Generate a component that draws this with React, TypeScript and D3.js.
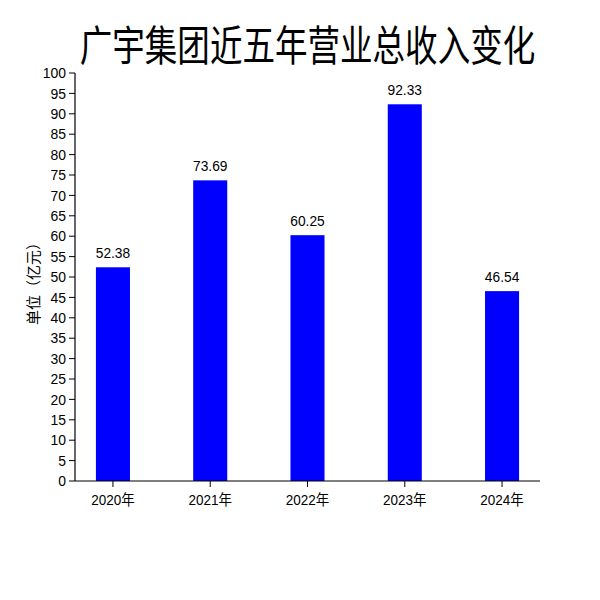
import React from "react";
import * as d3 from "d3";

const categories = ["2020年", "2021年", "2022年", "2023年", "2024年"];
const revenue = [52.38, 73.69, 60.25, 92.33, 46.54];
const yTicks = d3.range(0, 101, 5);
const title = "广宇集团近五年营业总收入变化";
const yLabel = "单位（亿元）";

const W = 600, H = 600;
const left = 75, right = 540, top = 73, bottom = 481;
const numFont = "'Liberation Sans', Arial, 'Noto Sans CJK SC', sans-serif";
const cjkFont = "'Noto Sans CJK SC', sans-serif";

export default function App() {
  const x = d3.scalePoint<string>().domain(categories).range([left, right]).padding(0.39);
  const y = d3.scaleLinear().domain([0, 100]).range([bottom, top]);
  const bw = x.step() * 0.35;
  return (
    <svg width={W} height={H} style={{ position: "absolute", left: 0, top: 0, background: "#fff" }}>
      <rect x={0} y={0} width={W} height={H} fill="#fff" />
      <g transform={`translate(${(left + right) / 2},61) scale(0.775,1)`}>
        <text textAnchor="middle" fontFamily={cjkFont} fontSize={42} fill="#000">{title}</text>
      </g>
      {categories.map((c, i) => (
        <rect key={c} x={(x(c) as number) - bw / 2} y={y(revenue[i])} width={bw} height={bottom - y(revenue[i])} fill="#0000ff" />
      ))}
      {categories.map((c, i) => (
        <g key={c + "v"} transform={`translate(${x(c)},${y(revenue[i]) - 9}) scale(0.95,1)`}>
          <text textAnchor="middle" fontFamily={numFont} fontSize={14.5} fill="#000">{revenue[i].toFixed(2)}</text>
        </g>
      ))}
      <line x1={left} x2={left} y1={top} y2={bottom} stroke="#000" strokeWidth={1.2} />
      <line x1={left} x2={right} y1={bottom} y2={bottom} stroke="#000" strokeWidth={1.2} />
      {yTicks.map((t) => (
        <g key={t}>
          <line x1={left - 6} x2={left} y1={y(t)} y2={y(t)} stroke="#000" strokeWidth={1} />
          <g transform={`translate(${left - 9},${y(t)}) scale(0.9,1)`}>
            <text textAnchor="end" dominantBaseline="central" fontFamily={numFont} fontSize={15.5} fill="#000">{t}</text>
          </g>
        </g>
      ))}
      {categories.map((c) => (
        <g key={c + "t"}>
          <line x1={x(c)} x2={x(c)} y1={bottom} y2={bottom + 6} stroke="#000" strokeWidth={1} />
          <g transform={`translate(${x(c)},${bottom + 24}) scale(0.9,1)`}>
            <text textAnchor="middle" fontFamily={numFont} fontSize={15} fill="#000">{c}</text>
          </g>
        </g>
      ))}
      <g transform={`translate(32,280) rotate(-90)`}>
        <text textAnchor="middle" dominantBaseline="central" fontFamily={cjkFont} fontSize={15} fill="#000">{yLabel}</text>
      </g>
    </svg>
  );
}
